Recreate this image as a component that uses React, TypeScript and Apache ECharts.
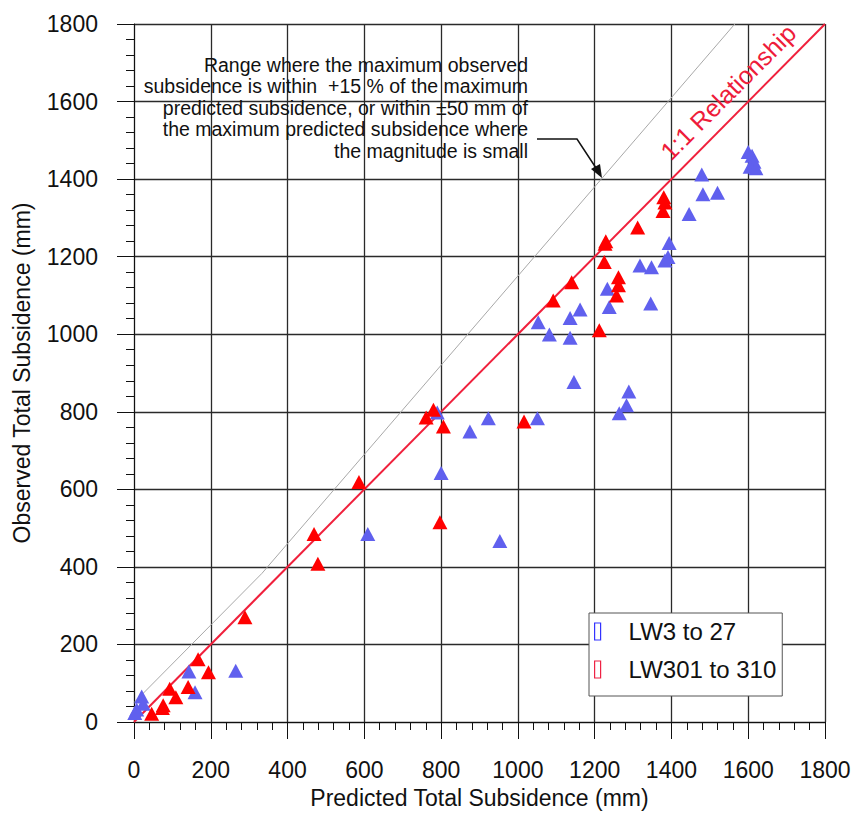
import React, { useEffect, useRef } from "react";
import * as echarts from "echarts";

const xTicks = [0, 200, 400, 600, 800, 1000, 1200, 1400, 1600, 1800];

const lw3Predicted = [2, 7, 20, 24, 143, 159, 265, 609, 800, 953, 875, 923, 790, 1051, 1146, 1053, 1082, 1136, 1136, 1162, 1233, 1238, 1283, 1289, 1264, 1318, 1348, 1346, 1383, 1391, 1394, 1446, 1479, 1482, 1520, 1600, 1610, 1615, 1605, 1620];
const lw3Observed = [23, 32, 66, 47, 130, 77, 132, 485, 642, 467, 749, 783, 798, 783, 877, 1031, 999, 1042, 991, 1064, 1117, 1070, 817, 852, 796, 1177, 1173, 1079, 1190, 1199, 1235, 1310, 1412, 1361, 1365, 1470, 1460, 1445, 1432, 1428];

const lw301Predicted = [46, 74, 76, 93, 109, 141, 167, 194, 289, 469, 479, 586, 761, 780, 806, 797, 1016, 1092, 1140, 1212, 1227, 1229, 1225, 1257, 1262, 1262, 1312, 1378, 1383, 1380];
const lw301Observed = [21, 36, 43, 86, 64, 90, 162, 128, 270, 485, 408, 619, 785, 805, 762, 515, 775, 1087, 1134, 1010, 1233, 1240, 1186, 1100, 1126, 1147, 1275, 1318, 1340, 1353];

const oneToOneLine = [[0, 0], [1800, 1800]];
const rangeLine = [[0, 50], [333.3, 383.3], [1565, 1800]];

const seriesNames = ["LW3 to 27", "LW301 to 310"];
const annotation = [
  "Range where the maximum observed",
  "subsidence is within  +15 % of the maximum",
  "predicted subsidence, or within \u00b150 mm of",
  "the maximum predicted subsidence where",
  "the magnitude is small",
];

const FONT = 'Arial, "Liberation Sans", sans-serif';

export default function App() {
  const ref = useRef<HTMLDivElement>(null);
  useEffect(() => {
    if (!ref.current) return;
    const chart = echarts.init(ref.current, undefined, { renderer: "svg" });
    const zip = (a: number[], b: number[]) => a.map((v, i) => [v, b[i]]);
    const axisCommon = {
      type: "value" as const,
      min: xTicks[0],
      max: xTicks[xTicks.length - 1],
      interval: xTicks[1] - xTicks[0],
      nameLocation: "middle" as const,
      nameTextStyle: { fontSize: 23, color: "#111", fontFamily: FONT },
      axisLine: { show: true, lineStyle: { color: "#111", width: 1 } },
      axisTick: { show: true, inside: false, length: 17, lineStyle: { color: "#111", width: 1 } },
      minorTick: { show: true, splitNumber: 5, length: 8, lineStyle: { color: "#111", width: 1 } },
      axisLabel: {
        fontSize: 23,
        color: "#111",
        fontFamily: FONT,
        margin: 36,
        formatter: (v: number) => String(v),
      },
      splitLine: { show: true, lineStyle: { color: "#2a2a2a", width: 1.3 } },
    };
    chart.setOption({
      animation: false,
      backgroundColor: "#fff",
      textStyle: { fontFamily: FONT },
      grid: { left: 134, right: 29, top: 24, bottom: 89, containLabel: false },
      xAxis: { ...axisCommon, name: "Predicted Total Subsidence (mm)", nameGap: 64 },
      yAxis: { ...axisCommon, name: "Observed Total Subsidence (mm)", nameGap: 101 },
      legend: {
        orient: "vertical",
        left: 589,
        top: 613,
        backgroundColor: "#fff",
        borderColor: "#555",
        borderWidth: 1,
        borderRadius: 0,
        padding: [5, 6, 13, 5],
        itemWidth: 6,
        itemHeight: 17,
        itemGap: 11,
        textStyle: { fontSize: 24, color: "#111", fontFamily: FONT, lineHeight: 27, padding: [0, 0, 0, 23] },
        data: [
          { name: seriesNames[0], icon: "rect", itemStyle: { color: "#fff", borderColor: "#3333ff", borderWidth: 1.2 } },
          { name: seriesNames[1], icon: "rect", itemStyle: { color: "#fff", borderColor: "#ee2244", borderWidth: 1.2 } },
        ],
      },
      series: [
        {
          type: "line",
          name: "range",
          data: rangeLine,
          symbol: "none",
          silent: true,
          lineStyle: { color: "#a8a8a8", width: 1 },
          z: 2,
        },
        {
          type: "line",
          name: "1:1",
          data: oneToOneLine,
          symbol: "none",
          silent: true,
          lineStyle: { color: "#f0203c", width: 2 },
          z: 2,
        },
        {
          type: "scatter",
          name: seriesNames[0],
          data: zip(lw3Predicted, lw3Observed),
          symbol: "triangle",
          symbolSize: [15, 14],
          itemStyle: { color: "#6060ee", opacity: 1 },
          z: 3,
        },
        {
          type: "scatter",
          name: seriesNames[1],
          data: zip(lw301Predicted, lw301Observed),
          symbol: "triangle",
          symbolSize: [15, 14],
          itemStyle: { color: "#ff0000", opacity: 1 },
          z: 4,
        },
      ],
      graphic: [
        {
          type: "text",
          x: 528,
          y: 54,
          z: 10,
          style: {
            text: annotation.join("\n"),
            fontSize: 19.5,
            lineHeight: 21.5,
            fontFamily: FONT,
            fill: "#111",
            align: "right",
            verticalAlign: "top",
          },
        },
        {
          type: "polyline",
          z: 10,
          shape: { points: [[537, 139], [577, 139], [598, 171]] },
          style: { stroke: "#111", lineWidth: 1.5, fill: "none" },
        },
        {
          type: "polygon",
          z: 10,
          shape: { points: [[602, 178], [591, 169], [600, 164]] },
          style: { fill: "#111" },
        },
        {
          type: "text",
          x: 728,
          y: 92,
          rotation: Math.PI / 4,
          z: 10,
          style: {
            text: "1:1 Relationship",
            fontSize: 25,
            fontFamily: FONT,
            fill: "#ee1c3a",
            align: "center",
            verticalAlign: "middle",
          },
        },
      ],
    });
    return () => chart.dispose();
  }, []);
  return (
    <div
      ref={ref}
      style={{ position: "fixed", left: 0, top: 0, width: 854, height: 814, background: "#fff" }}
    />
  );
}
